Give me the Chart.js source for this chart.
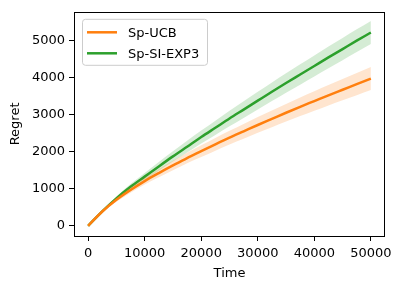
<!DOCTYPE html>
<html>
<head>
<meta charset="utf-8">
<script src="https://cdn.jsdelivr.net/npm/chart.js@4/dist/chart.umd.min.js"></script>
<style>
  body { margin: 0; background: #fff; }
  #chart { display: block; }
</style>
</head>
<body>
<canvas id="chart" width="402" height="289"></canvas>
<script>
// time steps (x)
const times = [0, 2500, 5000, 7500, 10000, 12500, 15000, 17500, 20000, 22500, 25000,
  27500, 30000, 32500, 35000, 37500, 40000, 42500, 45000, 47500, 50000]

// Sp-UCB
const ucbMean = [0, 385, 700, 965, 1205, 1420, 1625, 1825, 2010, 2195, 2375,
  2545, 2715, 2880, 3045, 3205, 3360, 3515, 3665, 3815, 3965]
const ucbUpper = [0, 415, 755, 1040, 1299, 1531, 1752, 1967, 2167, 2366, 2560,
  2744, 2927, 3105, 3283, 3455, 3622, 3789, 3951, 4113, 4274]
const ucbLower = [0, 355, 645, 890, 1111, 1309, 1498, 1683, 1853, 2024, 2190,
  2346, 2503, 2655, 2807, 2955, 3098, 3241, 3379, 3517, 3656]

// Sp-SI-EXP3
const exp3Mean = [0, 390, 740, 1050, 1325, 1600, 1870, 2130, 2390, 2640, 2890,
  3130, 3370, 3610, 3845, 4075, 4305, 4535, 4760, 4985, 5205]
const exp3Upper = [0, 415, 790, 1125, 1425, 1720, 2010, 2288, 2565, 2832, 3098,
  3354, 3610, 3862, 4108, 4349, 4589, 4827, 5060, 5291, 5517]
const exp3Lower = [0, 365, 690, 975, 1225, 1480, 1730, 1972, 2215, 2448, 2682,
  2906, 3130, 3358, 3582, 3801, 4021, 4243, 4460, 4679, 4893]

const xTicks = [0, 10000, 20000, 30000, 40000, 50000]
const yTicks = [0, 1000, 2000, 3000, 4000, 5000]

const ORANGE = '#ff7f0e'
const GREEN = '#2ca02c'
const FONT = '"DejaVu Sans", sans-serif'

const pts = (arr) => arr.map((v, i) => ({ x: times[i], y: v }))

function band(values, color, fillTarget) {
  return {
    type: 'line',
    data: pts(values),
    borderWidth: 0,
    borderColor: 'rgba(0,0,0,0)',
    backgroundColor: color,
    pointRadius: 0,
    fill: fillTarget,
    cubicInterpolationMode: 'monotone',
    isBand: true,
  }
}

// frame around the plot area
const framePlugin = {
  id: 'frame',
  afterDatasetsDraw(chart) {
    const { ctx, chartArea: a } = chart
    ctx.save()
    ctx.strokeStyle = '#000'
    ctx.lineWidth = 1
    ctx.strokeRect(Math.round(a.left) + 0.5, Math.round(a.top) + 0.5,
      Math.round(a.right - a.left) - 1, Math.round(a.bottom - a.top))
    ctx.restore()
  },
}

// legend inside, upper left
const legendPlugin = {
  id: 'innerLegend',
  afterDraw(chart) {
    const { ctx, chartArea: a } = chart
    const items = chart.data.datasets.filter((d) => !d.isBand)
    const x = a.left + 8, y = a.top + 7, w = 125, h = 46
    ctx.save()
    ctx.beginPath()
    ctx.roundRect(x + 0.5, y + 0.5, w, h, 3)
    ctx.fillStyle = 'rgba(255,255,255,0.8)'
    ctx.fill()
    ctx.strokeStyle = '#cccccc'
    ctx.lineWidth = 1
    ctx.stroke()
    ctx.font = '13px ' + FONT
    ctx.textBaseline = 'middle'
    items.forEach((d, i) => {
      const ly = y + 13.5 + i * 21
      ctx.strokeStyle = d.borderColor
      ctx.lineWidth = 2.5
      ctx.beginPath()
      ctx.moveTo(x + 5, ly)
      ctx.lineTo(x + 35, ly)
      ctx.stroke()
      ctx.fillStyle = '#000'
      ctx.fillText(d.label, x + 46, ly + 1)
    })
    ctx.restore()
  },
}

const plain = (v) => String(v)

new Chart(document.getElementById('chart'), {
  type: 'line',
  data: {
    datasets: [
      {
        label: 'Sp-UCB',
        data: pts(ucbMean),
        borderColor: ORANGE,
        borderWidth: 2.5,
        pointRadius: 0,
        fill: false,
        cubicInterpolationMode: 'monotone',
      },
      band(ucbUpper, 'rgba(255,127,14,0.2)', '+1'),
      band(ucbLower, 'rgba(255,127,14,0.2)', false),
      {
        label: 'Sp-SI-EXP3',
        data: pts(exp3Mean),
        borderColor: GREEN,
        borderWidth: 2.5,
        pointRadius: 0,
        fill: false,
        cubicInterpolationMode: 'monotone',
      },
      band(exp3Upper, 'rgba(44,160,44,0.2)', '+1'),
      band(exp3Lower, 'rgba(44,160,44,0.2)', false),
    ],
  },
  options: {
    responsive: false,
    animation: false,
    events: [],
    layout: { padding: { left: 0, top: 9, right: 17, bottom: 8 } },
    plugins: {
      legend: { display: false },
      tooltip: { enabled: false },
      title: { display: false },
    },
    scales: {
      x: {
        type: 'linear',
        min: -2500,
        max: 52500,
        afterBuildTicks: (s) => { s.ticks = xTicks.map((v) => ({ value: v })) },
        afterFit: (s) => { s.height = 45 },
        grid: { drawOnChartArea: false, drawTicks: true, tickLength: 5, tickColor: '#000', tickWidth: 1 },
        border: { display: false },
        ticks: { color: '#000', font: { family: FONT, size: 13 }, padding: 5, maxRotation: 0, callback: plain },
        title: { display: true, text: 'Time', color: '#000', font: { family: FONT, size: 13 }, padding: { top: 2, bottom: 0 } },
      },
      y: {
        type: 'linear',
        min: -274,
        max: 5763,
        afterBuildTicks: (s) => { s.ticks = yTicks.map((v) => ({ value: v })) },
        afterFit: (s) => { s.width = 74 },
        grid: { drawOnChartArea: false, drawTicks: true, tickLength: 5, tickColor: '#000', tickWidth: 1 },
        border: { display: false },
        ticks: { color: '#000', font: { family: FONT, size: 13 }, padding: 4, callback: plain },
        title: { display: true, text: 'Regret', color: '#000', font: { family: FONT, size: 13 }, padding: { top: 8, bottom: 4 } },
      },
    },
  },
  plugins: [framePlugin, legendPlugin],
})
</script>
</body>
</html>
